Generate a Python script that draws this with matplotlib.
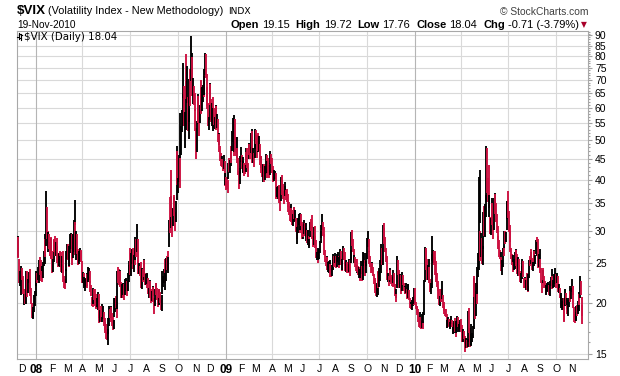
import numpy as np
import pandas as pd
import matplotlib
matplotlib.use("Agg")
import matplotlib.pyplot as plt
from matplotlib.collections import LineCollection
from matplotlib.lines import Line2D

# ---------------- data (daily VIX high / low / close) ----------------
hi07 = [29.2, 29.0, 25.6, 23.9, 23.0,
        24.6, 24.3, 23.3, 21.6, 21.0, 21.0, 23.9, 23.9, 23.2, 22.9, 23.8, 24.2, 22.5, 21.8, 20.0, 19.1, 19.5, 20.9, 21.4, 22.6]
lo07 = [25.9, 25.7, 22.3, 22.0, 20.9,
        22.9, 22.8, 21.0, 20.0, 19.8, 19.9, 19.9, 20.7, 21.5, 21.1, 22.3, 21.6, 20.8, 19.9, 18.4, 18.3, 18.4, 19.0, 19.6, 20.8]
cl07 = [28.9, 26.3, 22.4, 22.5, 22.9,
        23.8, 23.6, 21.3, 20.1, 20.5, 20.3, 23.6, 22.0, 21.7, 22.6, 23.5, 22.0, 21.4, 20.0, 18.5, 18.6, 19.0, 20.3, 20.7, 22.5]

hi08 = [23.9, 23.6, 24.4, 24.4, 25.5, 25.9, 25.4, 24.6, 23.9, 25.2, 26.8, 29.4, 28.6, 37.6, 34.2, 29.9, 29.8, 29.4, 28.2, 28.8, 28.9,
        26.8, 25.6, 28.4, 28.6, 29.1, 28.2, 28.8, 27.6, 26.3, 26.5, 26.8, 26.0, 26.6, 26.0, 26.8, 24.6, 23.2, 22.9, 24.2, 26.8,
        27.8, 27.9, 26.9, 27.6, 29.5, 29.6, 29.4, 26.6, 29.4, 31.8, 35.6, 31.5, 29.9, 29.4, 27.0, 26.4, 26.7, 27.2, 26.9, 26.7,
        25.3, 23.8, 23.6, 23.1, 22.9, 23.0, 23.6, 23.5, 24.5, 24.3, 23.9, 22.6, 22.1, 20.7, 20.6, 21.8, 21.6, 21.6, 21.0, 20.4, 20.6, 21.2,
        21.0, 19.2, 19.2, 19.6, 19.9, 19.7, 19.6, 19.0, 18.4, 18.0, 17.8, 17.0, 17.3, 18.4, 19.6, 19.3, 19.6, 19.5, 18.9, 18.5, 18.2,
        20.5, 20.6, 20.8, 20.1, 23.9, 24.4, 24.2, 24.1, 23.9, 22.5, 22.2, 21.7, 22.3, 22.2, 22.9, 22.8, 23.0, 22.6, 23.6, 24.7, 25.3,
        27.3, 26.4, 26.9, 27.1, 27.3, 26.2, 26.9, 29.0, 28.7, 31.1, 28.6, 25.4, 25.0, 24.6, 25.1, 23.5, 24.3, 24.2, 25.6, 25.5, 23.6, 23.5,
        23.5, 23.7, 23.0, 21.8, 22.7, 22.6, 21.6, 21.4, 22.0, 21.9, 20.6, 21.6, 22.4, 22.3, 21.8, 20.7, 21.6, 21.6, 21.2, 20.3, 20.9,
        23.9, 23.3, 24.2, 25.6, 23.6, 25.7, 26.1, 26.8, 25.9, 31.8, 36.2, 36.4, 42.2, 33.9, 34.1, 36.3, 36.6, 33.4, 35.4, 48.4, 47.1,
        40.4, 45.9, 45.8, 58.2, 54.2, 59.1, 64.9, 76.9, 67.7, 58.6, 69.5, 81.2, 75.6, 63.7, 59.6, 70.4, 74.6, 89.5, 81.5, 79.7, 70.8, 67.7, 65.0,
        59.4, 53.6, 55.5, 64.7, 63.9, 58.6, 61.0, 67.0, 70.0, 67.5, 68.0, 71.6, 74.4, 81.5, 81.0, 72.5, 67.2, 61.7, 57.0,
        68.9, 68.5, 63.0, 61.5, 63.7, 60.0, 59.8, 57.0, 61.0, 60.4, 57.8, 56.1, 52.0, 51.7, 48.3, 46.4, 45.6, 44.8, 44.4, 45.9, 44.4, 41.6]
lo08 = [22.0, 22.3, 22.8, 22.8, 22.4, 23.4, 22.6, 23.0, 22.5, 23.0, 24.6, 24.9, 25.9, 27.6, 28.6, 27.4, 26.6, 27.1, 26.1, 25.8, 25.6,
        23.6, 23.8, 25.1, 26.6, 26.0, 26.1, 26.7, 25.0, 24.5, 24.6, 25.0, 24.4, 23.8, 23.6, 23.6, 22.5, 21.8, 21.6, 22.4, 23.9,
        25.6, 25.4, 24.4, 24.6, 26.5, 27.0, 25.6, 24.8, 25.8, 26.6, 31.0, 26.2, 25.5, 26.3, 24.8, 24.7, 24.9, 25.3, 25.1, 25.1,
        22.4, 22.3, 22.0, 21.7, 21.4, 21.9, 22.0, 21.8, 22.5, 22.7, 22.3, 21.2, 20.8, 19.6, 19.5, 19.9, 20.3, 19.7, 19.3, 19.4, 19.5, 19.2,
        18.4, 17.9, 18.0, 18.0, 18.0, 18.5, 18.3, 17.6, 17.2, 16.9, 16.3, 16.2, 15.8, 16.8, 17.6, 18.4, 18.4, 18.0, 17.6, 17.2, 17.3,
        18.5, 19.0, 19.4, 18.4, 19.3, 22.3, 22.1, 22.0, 21.9, 20.6, 20.6, 20.5, 20.9, 20.3, 20.9, 21.5, 21.4, 20.8, 21.4, 22.5, 23.2,
        23.4, 23.3, 25.1, 24.9, 24.2, 23.8, 24.7, 25.4, 25.9, 26.6, 25.0, 23.5, 23.5, 23.2, 22.8, 21.7, 21.6, 22.5, 22.8, 23.1, 22.1, 22.1,
        21.8, 22.2, 21.0, 20.5, 21.1, 20.6, 20.0, 20.2, 20.8, 20.1, 18.8, 19.7, 21.0, 20.9, 20.3, 19.5, 19.8, 20.6, 20.0, 19.2, 19.1,
        21.0, 21.9, 22.3, 22.4, 21.5, 22.6, 24.1, 24.0, 23.7, 27.4, 29.6, 30.4, 32.5, 28.9, 30.8, 33.0, 32.6, 29.9, 31.6, 35.7, 38.8,
        37.0, 39.4, 38.2, 45.3, 46.0, 52.2, 54.0, 63.4, 54.2, 47.7, 53.0, 63.0, 61.4, 52.7, 50.2, 55.2, 60.5, 69.7, 69.6, 64.0, 61.1, 60.9, 59.0,
        52.5, 45.0, 46.6, 54.6, 54.9, 51.0, 55.0, 58.1, 58.0, 59.0, 62.0, 63.5, 64.3, 72.0, 71.0, 60.6, 59.5, 54.2, 53.0,
        56.0, 61.0, 55.3, 54.0, 53.5, 52.5, 54.4, 53.2, 55.0, 52.9, 53.6, 49.4, 48.6, 46.8, 44.5, 43.2, 43.1, 43.0, 42.1, 42.5, 38.5, 38.8]
cl08 = [23.2, 22.5, 23.9, 23.5, 25.4, 24.1, 23.5, 23.7, 22.9, 25.0, 25.5, 28.0, 27.2, 31.0, 29.0, 27.8, 29.0, 27.8, 26.6, 27.4, 26.2,
        24.0, 25.0, 28.2, 28.0, 26.2, 28.0, 27.2, 25.7, 24.9, 26.3, 25.0, 25.6, 24.0, 25.0, 24.1, 22.6, 22.0, 21.9, 23.8, 26.5,
        26.5, 26.1, 24.6, 27.5, 27.5, 29.4, 26.3, 26.0, 27.3, 31.2, 32.2, 26.4, 29.8, 26.6, 25.8, 25.2, 25.9, 26.6, 25.7, 25.6,
        22.7, 23.1, 22.4, 22.4, 22.4, 22.4, 23.2, 22.8, 23.5, 23.9, 22.8, 21.6, 21.1, 20.1, 19.9, 21.4, 20.8, 20.2, 20.1, 19.7, 20.2, 20.8,
        18.6, 18.2, 18.8, 18.1, 19.5, 18.6, 18.9, 17.8, 17.6, 17.5, 16.6, 16.5, 16.6, 18.1, 19.2, 18.6, 19.5, 18.4, 18.0, 17.6, 17.8,
        19.9, 20.2, 20.0, 18.9, 23.6, 23.0, 22.4, 23.7, 22.2, 20.8, 21.4, 20.8, 21.5, 20.6, 22.2, 21.9, 22.0, 21.2, 23.4, 23.4, 24.0,
        23.6, 26.2, 25.5, 26.6, 24.3, 25.9, 25.6, 27.5, 27.0, 28.5, 25.2, 23.9, 24.3, 24.1, 23.2, 21.9, 24.0, 22.8, 25.4, 23.4, 22.4, 22.9,
        22.6, 23.0, 21.2, 21.2, 22.5, 21.2, 20.7, 21.2, 21.6, 20.3, 19.8, 21.3, 22.0, 21.3, 20.5, 19.8, 21.4, 20.9, 20.3, 19.4, 20.7,
        22.0, 22.2, 24.0, 22.6, 22.6, 25.5, 24.4, 24.1, 25.7, 31.7, 30.3, 36.2, 33.1, 32.1, 33.8, 35.7, 32.8, 30.3, 34.7, 46.7, 39.4,
        39.8, 45.3, 45.1, 52.1, 53.7, 57.5, 63.9, 70.0, 55.0, 55.1, 69.3, 67.6, 70.3, 53.0, 53.1, 69.7, 67.8, 79.1, 80.1, 67.0, 70.0, 62.9, 59.9,
        53.7, 47.7, 54.6, 63.7, 55.3, 53.9, 59.9, 66.5, 59.8, 66.3, 67.6, 65.5, 74.3, 80.9, 72.7, 64.7, 60.9, 54.9, 55.3,
        68.5, 62.1, 55.7, 59.9, 54.3, 58.9, 55.7, 55.7, 59.8, 54.3, 56.0, 49.8, 51.0, 47.3, 44.9, 44.2, 44.6, 43.5, 43.4, 43.9, 39.2, 40.0]

hi09 = [40.7, 40.6, 40.0, 43.8, 45.1, 44.6, 47.3, 48.4, 52.6, 56.7, 51.8, 57.4, 56.2, 50.9, 50.8, 47.7, 45.2, 41.9, 42.8, 45.6,
        48.0, 46.0, 44.5, 45.4, 44.0, 43.8, 47.7, 46.6, 47.9, 44.0, 49.2, 49.0, 48.0, 52.0, 53.2, 52.6, 47.8, 46.4, 48.9,
        53.3, 53.0, 51.5, 51.0, 51.9, 51.0, 48.9, 45.6, 45.6, 43.4, 43.6, 43.4, 43.6, 43.2, 46.3, 45.9, 44.5, 45.3, 43.4, 43.8, 47.0, 46.1,
        45.2, 43.2, 42.5, 42.2, 42.1, 41.5, 38.6, 38.3, 38.5, 38.9, 37.7, 36.8, 40.5, 41.0, 40.0, 39.1, 37.5, 38.5, 39.4, 37.7, 37.9,
        36.9, 35.6, 35.2, 34.5, 34.9, 34.1, 33.8, 32.9, 34.2, 34.3, 33.8, 32.2, 30.8, 30.7, 32.3, 33.0, 32.5, 33.1, 33.0, 31.5,
        31.0, 31.2, 31.8, 31.3, 30.4, 31.3, 30.2, 30.1, 29.1, 28.7, 31.6, 32.0, 32.7, 30.8, 29.2, 30.6, 30.8, 29.2, 28.4, 26.6, 26.4, 27.2,
        27.0, 28.3, 29.9, 31.0, 32.9, 31.6, 30.6, 29.5, 26.9, 25.6, 26.1, 25.9, 25.1, 25.3, 25.4, 24.9, 24.3, 24.7, 25.5, 26.3, 26.1, 26.4,
        26.0, 25.7, 26.3, 26.6, 26.1, 25.9, 27.0, 26.8, 25.3, 25.6, 27.6, 27.3, 26.6, 25.1, 25.4, 25.1, 24.9, 24.6, 25.6, 25.4, 26.9,
        29.8, 30.1, 28.7, 27.0, 26.2, 25.9, 25.6, 24.7, 25.6, 24.6, 24.4, 24.4, 24.2, 25.3, 24.6, 25.4, 26.6, 26.4, 25.5, 25.3, 26.4,
        28.8, 29.9, 28.7, 26.8, 26.0, 25.1, 25.2, 25.0, 24.4, 23.5, 23.0, 22.7, 22.1, 22.4, 23.8, 23.9, 24.3, 25.4, 25.3, 27.9, 27.3, 31.0,
        31.3, 30.5, 28.9, 27.3, 26.1, 24.1, 23.7, 23.3, 24.3, 24.0, 23.4, 23.1, 23.0, 24.1, 23.6, 22.2, 21.6, 21.0, 26.0, 25.4,
        24.0, 22.8, 23.5, 23.4, 22.8, 23.8, 23.4, 22.4, 22.0, 21.9, 22.3, 21.6, 22.2, 22.2, 21.5, 20.6, 20.1, 19.9, 20.3, 20.7, 20.8, 21.8]
lo09 = [37.7, 37.9, 37.0, 40.2, 41.8, 41.6, 43.1, 44.0, 47.0, 49.5, 45.6, 46.6, 46.7, 45.6, 45.1, 43.9, 41.1, 38.0, 39.0, 41.4,
        44.1, 42.5, 41.6, 41.8, 40.9, 41.4, 41.8, 43.4, 42.6, 40.5, 44.9, 46.0, 44.8, 46.4, 46.3, 44.0, 43.8, 42.9, 45.1,
        47.6, 49.0, 45.3, 46.6, 47.0, 46.9, 43.4, 42.6, 41.6, 40.5, 39.5, 40.1, 39.4, 40.0, 41.4, 40.3, 41.5, 41.5, 40.4, 41.1, 43.7, 43.6,
        41.6, 39.9, 39.5, 39.6, 40.1, 38.6, 35.9, 36.2, 35.8, 36.1, 35.0, 33.6, 35.5, 37.7, 36.7, 35.8, 34.9, 36.4, 36.8, 35.6, 35.3,
        34.3, 33.3, 32.8, 31.7, 31.9, 31.6, 31.0, 30.8, 31.6, 32.0, 31.7, 29.8, 28.6, 27.8, 29.6, 31.0, 29.6, 30.2, 30.8, 28.7,
        28.7, 29.0, 29.5, 29.1, 28.3, 28.9, 28.0, 27.7, 27.5, 27.2, 28.9, 29.9, 30.4, 28.6, 27.4, 27.7, 28.6, 27.2, 25.8, 25.4, 25.0, 25.5,
        25.6, 26.5, 28.0, 28.8, 30.2, 29.2, 28.9, 26.2, 25.2, 24.6, 24.5, 24.1, 23.8, 23.6, 23.8, 23.1, 23.1, 23.3, 24.0, 24.6, 24.4, 25.0,
        24.8, 24.3, 24.5, 25.2, 24.3, 24.7, 25.3, 24.8, 23.9, 24.1, 25.5, 25.4, 24.6, 23.9, 23.8, 23.6, 23.7, 23.6, 23.8, 23.2, 25.0,
        25.4, 27.6, 26.6, 25.1, 25.0, 24.4, 23.9, 23.7, 23.8, 23.4, 23.0, 22.6, 23.0, 23.5, 22.6, 22.7, 24.6, 25.0, 23.2, 23.6, 24.6,
        25.6, 27.4, 26.6, 24.9, 24.5, 23.7, 23.9, 23.7, 23.2, 22.2, 21.5, 21.1, 20.8, 20.7, 20.9, 21.7, 21.9, 22.6, 23.7, 24.6, 24.8, 24.7,
        28.2, 27.9, 26.6, 25.1, 23.9, 22.8, 22.5, 22.0, 22.5, 22.7, 22.2, 22.0, 21.9, 22.3, 22.0, 20.8, 20.6, 20.1, 21.8, 23.4,
        22.1, 21.7, 21.8, 21.0, 21.4, 22.2, 22.1, 21.4, 21.0, 21.0, 21.1, 20.4, 20.6, 21.0, 20.3, 19.4, 19.3, 19.3, 19.2, 19.7, 19.8, 19.9]
cl09 = [39.2, 39.1, 38.6, 43.4, 42.8, 43.3, 46.1, 45.8, 51.0, 51.0, 46.1, 56.6, 47.3, 46.4, 47.3, 45.7, 42.3, 38.6, 42.3, 44.8,
        45.5, 43.1, 43.1, 43.4, 42.8, 42.6, 45.9, 44.8, 43.7, 41.0, 48.4, 47.1, 46.5, 47.1, 52.6, 44.7, 45.7, 45.2, 46.4,
        52.7, 50.9, 45.5, 50.2, 49.3, 49.7, 43.6, 44.4, 42.4, 41.2, 43.1, 40.9, 40.3, 42.4, 45.9, 43.2, 43.2, 42.9, 41.3, 42.6, 45.5, 44.1,
        42.3, 42.0, 39.7, 40.9, 40.9, 38.9, 36.5, 37.0, 37.6, 36.4, 35.7, 33.9, 40.4, 38.7, 38.6, 36.3, 35.8, 37.9, 38.1, 36.8, 36.5,
        35.3, 34.5, 33.4, 32.3, 33.7, 32.1, 31.8, 31.8, 33.6, 32.9, 33.1, 30.2, 29.6, 29.6, 31.4, 32.6, 30.6, 32.4, 31.7, 28.9,
        30.2, 29.8, 31.0, 29.4, 29.6, 29.8, 28.3, 28.8, 28.2, 28.2, 31.2, 31.0, 30.8, 29.0, 27.9, 30.4, 29.0, 27.5, 25.9, 25.9, 25.4, 26.4,
        26.4, 28.0, 29.0, 30.9, 31.3, 29.8, 29.0, 26.3, 25.4, 25.0, 25.9, 24.3, 24.4, 24.4, 24.9, 23.4, 23.1, 24.3, 25.0, 25.9, 25.4, 25.9,
        25.2, 24.5, 25.9, 26.0, 24.8, 25.3, 26.5, 25.1, 24.2, 25.0, 27.2, 25.6, 24.9, 24.0, 25.0, 24.6, 24.2, 24.0, 24.9, 24.8, 26.0,
        29.2, 28.6, 26.9, 25.3, 25.3, 24.9, 24.1, 24.2, 24.1, 23.9, 23.9, 23.4, 23.9, 24.3, 23.0, 24.8, 25.6, 25.6, 23.4, 25.0, 25.6,
        28.3, 28.7, 26.8, 25.0, 24.8, 24.1, 25.2, 24.2, 23.7, 22.9, 21.7, 21.4, 21.1, 21.8, 22.5, 22.4, 24.1, 24.2, 24.5, 27.7, 25.4, 30.7,
        29.8, 28.8, 27.7, 25.4, 24.2, 23.0, 23.2, 22.8, 24.0, 23.0, 22.9, 22.5, 22.2, 23.5, 22.2, 21.0, 21.0, 20.5, 24.7, 24.5,
        22.4, 22.0, 23.0, 21.3, 22.6, 23.2, 22.6, 21.6, 21.6, 21.5, 21.5, 20.5, 21.7, 21.7, 20.5, 19.5, 19.7, 19.5, 20.0, 20.5, 20.0, 21.7]

hi10 = [21.7, 20.1, 19.7, 19.7, 19.3, 18.6, 19.0, 18.5, 18.1, 18.8, 18.1, 19.0, 22.8, 27.4, 27.3, 26.9, 25.6, 24.7, 25.6,
        24.5, 22.9, 22.4, 26.3, 29.2, 26.9, 26.7, 26.8, 25.9, 25.3, 23.6, 22.6, 21.9, 21.6, 20.8, 21.6, 21.6, 22.6, 20.9,
        20.1, 19.6, 19.3, 19.3, 18.8, 18.2, 18.5, 18.3, 18.3, 18.0, 18.6, 18.2, 17.9, 17.5, 18.1, 18.4, 17.5, 18.1, 18.6, 18.5, 18.0, 17.8, 18.2,
        18.3, 17.7, 17.3, 17.3, 17.1, 16.6, 16.3, 16.4, 16.2, 16.3, 19.1, 19.4, 17.4, 16.8, 17.8, 16.9, 17.6, 23.0, 23.3, 21.4, 22.4,
        22.3, 24.4, 26.4, 40.7, 42.2, 30.0, 29.6, 28.8, 27.6, 33.3, 34.4, 34.8, 36.6, 48.2, 47.7, 40.3, 43.5, 36.6, 32.4, 32.2,
        36.1, 35.0, 31.6, 36.0, 37.0, 36.8, 35.0, 33.0, 30.8, 29.1, 28.5, 26.9, 26.6, 25.9, 25.4, 27.3, 27.6, 29.9, 30.0, 29.8, 35.4, 35.4,
        37.6, 33.6, 31.0, 29.9, 27.2, 26.3, 26.2, 25.1, 25.6, 26.6, 27.0, 26.9, 26.3, 25.9, 25.6, 24.7, 23.9, 23.6, 24.6, 25.6, 25.3,
        23.0, 23.1, 23.0, 22.8, 23.6, 22.0, 23.5, 25.5, 26.0, 26.6, 27.0, 25.8, 25.2, 26.9, 26.8, 26.2, 28.5, 29.0, 28.1, 28.6, 26.3, 27.1,
        25.6, 24.3, 22.6, 24.0, 24.3, 23.3, 22.6, 22.2, 22.1, 22.3, 22.5, 22.2, 22.1, 22.6, 23.1, 24.2, 23.3, 22.8, 23.5, 23.3, 24.3,
        23.5, 23.6, 23.2, 22.2, 22.2, 21.8, 20.9, 21.1, 20.2, 20.6, 20.6, 20.0, 21.6, 21.1, 20.5, 19.8, 20.3, 20.5, 22.0, 21.4, 21.7,
        22.9, 22.0, 22.0, 19.5, 18.8, 19.0, 19.6, 19.8, 20.2, 21.2, 21.0, 23.2, 22.6, 20.7, 19.72]
lo10 = [19.9, 19.3, 18.9, 18.7, 18.0, 17.5, 17.5, 17.4, 17.3, 17.4, 17.3, 17.9, 18.7, 22.5, 24.6, 24.1, 22.8, 22.7, 22.8,
        22.3, 21.2, 21.0, 21.8, 25.3, 25.0, 24.8, 24.9, 23.4, 22.5, 21.9, 21.4, 20.4, 19.8, 19.7, 20.1, 20.1, 20.4, 19.4,
        19.1, 18.8, 18.6, 18.5, 17.4, 17.4, 17.6, 17.5, 17.4, 17.3, 17.8, 17.5, 16.9, 16.8, 16.9, 17.0, 16.5, 16.9, 17.0, 17.5, 17.1, 17.0, 17.3,
        17.0, 16.9, 16.0, 16.0, 16.3, 15.9, 15.2, 15.5, 15.5, 15.6, 16.0, 16.9, 15.6, 15.7, 15.8, 16.0, 16.4, 17.3, 20.7, 18.3, 18.6,
        19.9, 21.0, 23.1, 24.1, 31.4, 25.3, 25.9, 24.9, 24.7, 27.0, 29.1, 28.9, 32.4, 35.3, 37.0, 35.2, 34.1, 32.4, 29.4, 29.3,
        31.4, 31.0, 28.6, 30.2, 33.6, 32.9, 31.6, 29.6, 28.5, 27.0, 25.9, 25.6, 24.9, 23.9, 23.4, 24.4, 26.0, 27.2, 27.8, 28.1, 30.1, 32.1,
        32.3, 29.8, 28.1, 26.6, 25.6, 24.8, 24.6, 23.8, 24.1, 24.2, 25.0, 24.6, 23.5, 23.3, 24.0, 23.2, 22.5, 22.4, 22.9, 23.6, 23.1,
        21.8, 21.8, 21.8, 21.5, 21.5, 21.3, 21.4, 23.0, 24.6, 24.9, 25.4, 24.1, 23.9, 24.6, 25.2, 24.9, 26.3, 26.2, 26.1, 24.3, 24.5, 25.6,
        23.7, 22.4, 21.1, 22.3, 22.7, 21.8, 21.8, 21.0, 20.9, 21.3, 21.4, 21.3, 20.9, 20.8, 22.0, 23.0, 21.6, 21.8, 21.9, 22.2, 22.3,
        21.8, 22.3, 21.6, 21.2, 21.1, 20.5, 19.7, 19.4, 19.2, 19.2, 18.1, 18.0, 19.7, 19.8, 19.3, 18.8, 18.6, 19.5, 20.1, 20.1, 20.4,
        21.2, 20.9, 19.4, 18.0, 17.9, 18.1, 18.2, 18.6, 18.8, 19.1, 19.8, 20.6, 20.9, 18.6, 17.76]
cl10 = [20.0, 19.4, 19.2, 19.1, 18.1, 17.6, 18.3, 17.9, 17.6, 17.9, 17.6, 18.7, 22.3, 27.3, 25.4, 24.6, 23.1, 23.7, 24.6,
        22.6, 21.5, 21.6, 26.1, 26.1, 26.5, 26.0, 25.4, 24.0, 22.7, 22.3, 21.7, 20.6, 20.0, 20.6, 21.4, 20.3, 20.7, 19.5,
        19.3, 19.1, 18.8, 18.7, 17.4, 17.8, 17.9, 17.8, 17.6, 17.6, 18.0, 17.7, 17.0, 17.1, 17.4, 17.2, 16.8, 17.6, 18.2, 17.8, 17.2, 17.6, 17.6,
        17.5, 17.0, 16.2, 16.6, 16.5, 16.1, 15.6, 16.0, 15.7, 15.9, 18.4, 17.3, 15.7, 16.3, 16.3, 16.6, 17.5, 22.8, 21.1, 18.4, 22.1,
        20.2, 23.8, 24.9, 32.8, 41.0, 25.5, 28.6, 25.5, 26.7, 31.2, 31.0, 33.6, 33.6, 45.8, 40.1, 38.3, 34.6, 35.1, 29.7, 32.1,
        35.0, 31.7, 29.5, 35.5, 36.6, 33.7, 33.2, 29.9, 28.8, 28.6, 26.0, 25.9, 25.9, 24.4, 25.0, 27.0, 26.9, 29.7, 28.5, 29.0, 34.1, 34.5,
        32.9, 30.1, 29.7, 26.8, 26.1, 25.0, 25.0, 24.6, 24.9, 25.1, 26.3, 25.0, 23.9, 25.6, 24.6, 23.5, 22.7, 23.2, 24.1, 24.1, 23.5,
        22.0, 22.6, 22.2, 22.2, 22.1, 21.6, 22.4, 25.4, 25.2, 26.2, 25.9, 24.3, 24.6, 26.4, 25.5, 25.7, 27.5, 26.7, 27.4, 24.5, 26.1, 26.1,
        23.9, 22.5, 21.3, 23.8, 23.3, 22.1, 22.0, 21.2, 21.6, 21.7, 21.7, 21.8, 21.1, 22.4, 22.8, 23.9, 21.7, 22.6, 22.6, 22.9, 23.7,
        22.5, 23.5, 21.8, 21.5, 21.6, 20.7, 19.9, 19.9, 19.9, 19.9, 19.1, 18.5, 20.9, 19.9, 19.9, 19.0, 19.9, 20.2, 21.2, 20.7, 21.2,
        21.8, 21.3, 19.6, 18.5, 18.3, 18.4, 19.1, 18.7, 19.0, 20.6, 20.2, 22.6, 21.0, 18.75, 18.04]

last_open = 19.15
y_ticks = [15, 20, 25, 30, 35, 40, 45, 50, 55, 60, 65, 70, 75, 80, 85, 90]
month_letters = ["J", "F", "M", "A", "M", "J", "J", "A", "S", "O", "N", "D"]
holidays = ["2007-12-25", "2008-01-01", "2008-01-21", "2008-02-18", "2008-03-21", "2008-05-26",
            "2008-07-04", "2008-09-01", "2008-11-27", "2008-12-25", "2009-01-01", "2009-01-19",
            "2009-02-16", "2009-04-10", "2009-05-25", "2009-07-03", "2009-09-07", "2009-11-26",
            "2009-12-25", "2010-01-01", "2010-01-18", "2010-02-15", "2010-04-02", "2010-05-31",
            "2010-07-05", "2010-09-06"]

# ---------------- assemble ----------------
high = np.array(hi07 + hi08 + hi09 + hi10)
low = np.array(lo07 + lo08 + lo09 + lo10)
close = np.array(cl07 + cl08 + cl09 + cl10)
dates = pd.bdate_range("2007-11-26", "2010-11-19")
dates = dates[~dates.isin(pd.to_datetime(holidays))]
n = len(close)
if not (len(high) == len(low) == n == len(dates)):
    raise ValueError(f"lengths {len(high)} {len(low)} {n} dates {len(dates)}")
x = np.arange(n)

RED = "#cc1040"
prev = np.concatenate([[close[0] - 1], close[:-1]])
colors = [RED if c < p else "black" for c, p in zip(close, prev)]

W, H = 620, 376
fig = plt.figure(figsize=(W / 100, H / 100), dpi=100)
fig.patch.set_facecolor("white")


def fx(px):
    return px / W


def fy(py):
    return 1 - py / H


ax_l, ax_r, ax_t, ax_b = 17, 588, 31, 359
ax = fig.add_axes([fx(ax_l), fy(ax_b), (ax_r - ax_l) / W, (ax_b - ax_t) / H])
ax.set_yscale("log")
ax.set_ylim(14.58, 92.3)
pxper = 0.75
ax.set_xlim(-(17.7 - ax_l) / pxper, (ax_r - 17.7) / pxper)

# grid
for v in y_ticks:
    ax.axhline(v, color="#d9d9d9", lw=0.8, zorder=0)
month_starts = []
prev_m = None
for i, d in enumerate(dates):
    key = (d.year, d.month)
    if key != prev_m:
        if i > 0 or d.day <= 3:
            month_starts.append((i, d))
        prev_m = key
for i, d in month_starts:
    if d.month in (1, 4, 7, 10):
        ax.axvline(i, color="#b5b5b5" if d.month == 1 else "#d9d9d9", lw=0.8, zorder=0)

# bars
segs = [[(xi, lo), (xi, hi)] for xi, lo, hi in zip(x, low, high)]
lc = LineCollection(segs, colors=colors, linewidths=1.35, zorder=3)
ax.add_collection(lc)

# axes styling
for s in ax.spines.values():
    s.set_color("#a8a8a8")
    s.set_linewidth(0.8)
ax.yaxis.tick_right()
ax.set_yticks(y_ticks)
ax.set_yticklabels([str(v) for v in y_ticks])
ax.set_yticks([v for v in range(15, 93) if v not in y_ticks], minor=True)
ax.yaxis.set_minor_formatter(plt.NullFormatter())
ax.tick_params(axis="y", which="major", right=True, left=False, length=3, width=0.8,
               color="#a0a0a0", pad=2, labelsize=7.5, labelcolor="black")
ax.tick_params(axis="y", which="minor", right=True, left=False, length=1.5, width=0.8,
               color="#a0a0a0")
for t in ax.get_yticklabels():
    t.set_fontfamily("Liberation Sans")

xt = [i for i, d in month_starts]
xl = [f"{d.year % 100:02d}" if d.month == 1 else month_letters[d.month - 1] for i, d in month_starts]
ax.set_xticks(xt)
ax.set_xticklabels(xl)
ax.tick_params(axis="x", length=0, pad=3.5, labelsize=7.5)
for t, (i, d) in zip(ax.get_xticklabels(), month_starts):
    t.set_fontfamily("Liberation Sans")
    if d.month == 1:
        t.set_fontweight("bold")
        t.set_fontsize(8.5)

# header texts
fig.text(fx(17), fy(13.5), "$VIX", fontsize=9.6, fontweight="bold", family="Liberation Sans",
         va="baseline", ha="left")
fig.text(fx(48), fy(13.5), "(Volatility Index - New Methodology)", fontsize=7.8,
         family="Liberation Sans", va="baseline", ha="left")
fig.text(fx(228), fy(13.5), "INDX", fontsize=6.6, family="DejaVu Sans", va="baseline", ha="left")
fig.text(fx(17), fy(27.5), f"{dates[-1].day}-{dates[-1].strftime('%b')}-{dates[-1].year}", fontsize=7.3,
         family="Liberation Sans", va="baseline", ha="left")
fig.text(fx(588), fy(15), "\u00a9 StockCharts.com", fontsize=7.4, family="Liberation Sans",
         color="#404040", va="baseline", ha="right")

chg = close[-1] - close[-2]
pct = chg / close[-2] * 100
pieces = [("Open", True, 3), (f"{last_open:.2f}", False, 6), ("High", True, 3), (f"{high[-1]:.2f}", False, 6),
          ("Low", True, 3), (f"{low[-1]:.2f}", False, 6), ("Close", True, 3), (f"{close[-1]:.2f}", False, 6),
          ("Chg", True, 3), (f"{chg:.2f} ({pct:.2f}%)", False, 0)]
renderer = fig.canvas.get_renderer()
objs = []
for s, b, g in pieces:
    t = fig.text(0, fy(27.5), s, fontsize=8, fontweight="bold" if b else "normal",
                 family="Liberation Sans", va="baseline", ha="left")
    objs.append((t, g))
widths = [t.get_window_extent(renderer).width for t, g in objs]
total = sum(widths) + sum(g for t, g in objs)
xpos = 579 - total
for (t, g), w in zip(objs, widths):
    t.set_x(fx(xpos))
    xpos += w + g
fig.text(fx(581), fy(27), "\u25bc", fontsize=5.5, family="DejaVu Sans", color="#a8002a",
         va="baseline", ha="left")

# legend inside plot
fig.text(fx(23.5), fy(40), f"$VIX (Daily) {close[-1]:.2f}", fontsize=7.4, family="DejaVu Sans",
         va="baseline", ha="left")
for (x0, y0, y1, yo, yc) in [(18.5, 33, 39, 37, 34), (21, 34, 40, 38, 35)]:
    fig.add_artist(Line2D([fx(x0), fx(x0)], [fy(y0), fy(y1)], color="black", lw=0.8))
    fig.add_artist(Line2D([fx(x0 - 1.3), fx(x0)], [fy(yo), fy(yo)], color="black", lw=0.8))
    fig.add_artist(Line2D([fx(x0), fx(x0 + 1.3)], [fy(yc), fy(yc)], color="black", lw=0.8))

fig.savefig("out.png", dpi=100)
